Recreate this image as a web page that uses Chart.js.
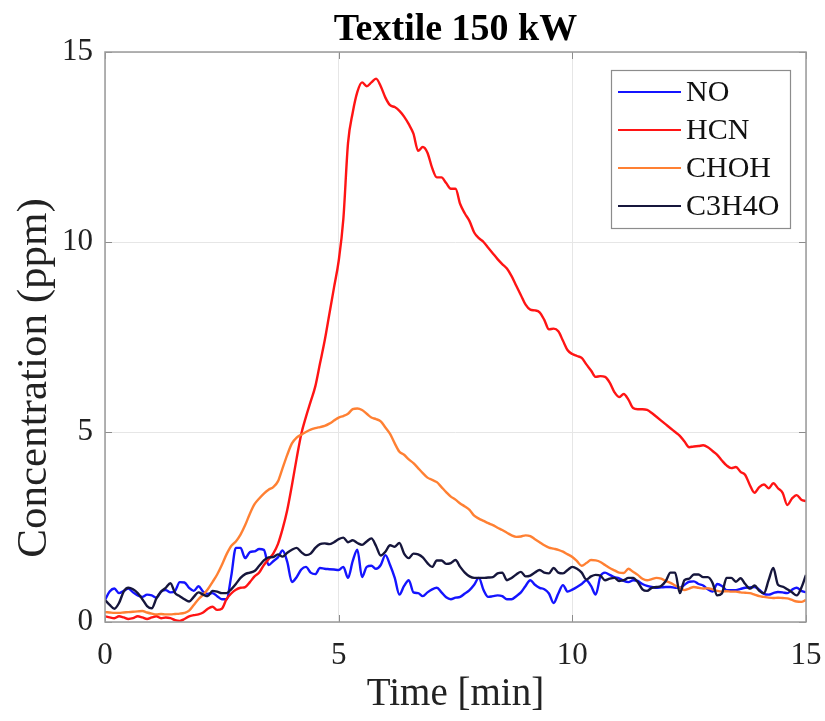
<!DOCTYPE html>
<html>
<head>
<meta charset="utf-8">
<script src="https://cdn.jsdelivr.net/npm/chart.js@4.4.1/dist/chart.umd.min.js"></script>
<style>
  html, body { margin: 0; padding: 0; background: #fff; }
  #wrap { width: 825px; height: 721px; position: relative; }
</style>
</head>
<body>
<div id="wrap"><canvas id="chart" width="825" height="721"></canvas></div>
<script>
// sampling every 0.1 min, 0 .. 15 min
const timeMin = Array.from({ length: 151 }, (_, i) => i / 10);

const seriesNames = ['NO', 'HCN', 'CHOH', 'C3H4O'];
const seriesColors = ['#1414ff', '#ff1414', '#ff8033', '#16163c'];

const xTicks = [0, 5, 10, 15];
const yTicks = [0, 5, 10, 15];

const no = [
  0.58,0.80,0.88,0.76,0.82,0.88,0.78,0.70,0.66,0.72,
  0.70,0.64,0.80,0.84,0.78,0.82,1.05,1.04,0.90,0.82,
  0.94,0.80,0.74,0.76,0.68,0.60,0.60,1.20,1.95,1.95,
  1.68,1.84,1.86,1.92,1.90,1.50,1.60,1.70,1.88,1.58,
  1.05,1.18,1.38,1.45,1.30,1.26,1.42,1.40,1.39,1.38,
  1.37,1.45,1.16,1.60,1.90,1.18,1.45,1.48,1.40,1.50,
  1.76,1.50,1.16,0.72,0.95,1.10,0.78,0.76,0.68,0.78,
  0.86,0.90,0.78,0.65,0.60,0.64,0.66,0.75,0.84,0.98,
  1.16,0.84,0.66,0.68,0.70,0.68,0.60,0.60,0.68,0.78,
  0.95,1.10,0.98,0.90,0.86,0.75,0.50,0.75,0.97,0.80,
  0.85,0.92,1.00,1.10,0.95,0.72,1.20,1.30,1.24,1.18,
  1.15,1.08,1.05,1.10,1.08,1.00,0.95,0.92,0.90,0.91,
  0.92,0.92,0.90,0.90,0.98,1.06,1.07,1.00,0.96,0.86,
  0.80,1.00,0.95,0.84,0.84,0.84,0.87,0.90,0.91,0.92,
  0.85,0.74,0.72,0.76,0.79,0.78,0.76,0.85,0.90,0.82,
  0.78
];

const hcn = [
  0.15,0.12,0.10,0.15,0.12,0.08,0.10,0.15,0.12,0.08,
  0.12,0.15,0.10,0.12,0.10,0.05,0.03,0.08,0.15,0.18,
  0.20,0.25,0.35,0.40,0.32,0.35,0.60,0.75,0.85,0.90,
  0.92,1.05,1.20,1.30,1.50,1.65,1.80,2.05,2.45,2.95,
  3.60,4.30,4.95,5.40,5.80,6.20,6.80,7.40,8.10,8.80,
  9.50,10.60,12.60,13.40,13.95,14.20,14.10,14.20,14.30,14.10,
  13.80,13.60,13.55,13.45,13.30,13.10,12.85,12.40,12.50,12.35,
  11.95,11.70,11.70,11.55,11.40,11.40,11.00,10.75,10.55,10.25,
  10.10,10.00,9.85,9.70,9.55,9.42,9.30,9.10,8.85,8.60,
  8.35,8.22,8.20,8.15,7.95,7.70,7.72,7.65,7.40,7.15,
  7.05,7.00,6.95,6.78,6.62,6.45,6.47,6.45,6.30,6.05,
  5.92,6.00,5.85,5.63,5.60,5.60,5.58,5.50,5.40,5.30,
  5.20,5.10,5.00,4.90,4.75,4.60,4.62,4.63,4.65,4.60,
  4.50,4.40,4.25,4.12,4.05,4.08,3.95,3.87,3.60,3.40,
  3.55,3.62,3.52,3.65,3.52,3.40,3.08,3.25,3.34,3.22,
  3.18
];

const choh = [
  0.26,0.25,0.24,0.24,0.25,0.26,0.27,0.28,0.29,0.25,
  0.22,0.20,0.21,0.20,0.20,0.21,0.22,0.24,0.30,0.45,
  0.60,0.72,0.86,1.05,1.25,1.50,1.78,2.00,2.12,2.30,
  2.55,2.85,3.10,3.25,3.38,3.48,3.55,3.70,4.05,4.40,
  4.70,4.85,4.93,5.00,5.06,5.10,5.13,5.16,5.22,5.30,
  5.38,5.42,5.48,5.60,5.62,5.58,5.48,5.38,5.34,5.28,
  5.12,4.95,4.70,4.48,4.40,4.28,4.18,4.05,3.92,3.80,
  3.74,3.68,3.55,3.42,3.30,3.22,3.12,3.04,2.95,2.80,
  2.72,2.66,2.60,2.55,2.48,2.42,2.35,2.28,2.24,2.25,
  2.28,2.26,2.18,2.10,2.02,1.96,1.93,1.90,1.85,1.78,
  1.71,1.60,1.48,1.55,1.63,1.62,1.58,1.50,1.42,1.36,
  1.30,1.29,1.40,1.32,1.24,1.14,1.10,1.13,1.16,1.14,
  1.08,1.03,0.96,0.90,0.84,0.88,0.92,0.90,0.88,0.89,
  0.86,0.82,0.80,0.81,0.80,0.80,0.78,0.77,0.76,0.72,
  0.68,0.66,0.64,0.63,0.64,0.63,0.62,0.58,0.54,0.53,
  0.58
];

const c3h4o = [
  0.58,0.45,0.35,0.50,0.80,0.90,0.86,0.76,0.60,0.42,
  0.36,0.62,0.80,0.90,1.02,0.76,0.68,0.60,0.54,0.66,
  0.78,0.72,0.68,0.82,0.80,0.76,0.76,0.86,1.00,1.16,
  1.26,1.30,1.34,1.48,1.62,1.70,1.71,1.78,1.72,1.82,
  1.90,1.95,1.84,1.76,1.80,1.95,2.05,2.07,2.05,2.10,
  2.18,2.22,2.10,2.15,2.08,2.03,2.12,2.20,2.00,1.75,
  1.85,2.02,1.98,2.08,1.80,1.68,1.80,1.78,1.70,1.55,
  1.45,1.62,1.62,1.53,1.55,1.63,1.45,1.30,1.20,1.16,
  1.16,1.16,1.17,1.18,1.28,1.30,1.10,1.16,1.25,1.32,
  1.20,1.22,1.30,1.37,1.30,1.28,1.42,1.30,1.28,1.37,
  1.45,1.40,1.30,1.12,1.20,1.24,1.22,1.10,1.14,1.16,
  1.08,1.10,1.16,1.16,1.05,0.86,0.82,0.90,0.92,0.95,
  1.08,1.30,1.30,0.76,1.10,1.14,1.25,1.25,1.18,1.18,
  1.03,0.70,0.75,1.16,1.16,1.06,1.15,1.00,0.88,0.96,
  0.82,0.76,1.10,1.42,0.98,0.93,0.86,0.78,0.70,0.90,
  1.24
];

const allSeries = [no, hcn, choh, c3h4o];
const serif = "'Liberation Serif', 'Times New Roman', serif";

// 枠線・内向き目盛り・タイトル・縦軸ラベル・凡例をまとめて描く
const matlabLook = {
  id: 'matlabLook',
  afterDraw(chart) {
    const { ctx, chartArea: a, scales } = chart;
    ctx.save();

    // 内向きの目盛り
    ctx.strokeStyle = '#8c8c8c';
    ctx.lineWidth = 1;
    ctx.beginPath();
    xTicks.forEach((v) => {
      const px = Math.round(scales.x.getPixelForValue(v)) + 0.5;
      ctx.moveTo(px, a.bottom); ctx.lineTo(px, a.bottom - 7);
      ctx.moveTo(px, a.top); ctx.lineTo(px, a.top + 7);
    });
    yTicks.forEach((v) => {
      const py = Math.round(scales.y.getPixelForValue(v)) + 0.5;
      ctx.moveTo(a.left, py); ctx.lineTo(a.left + 7, py);
      ctx.moveTo(a.right, py); ctx.lineTo(a.right - 7, py);
    });
    ctx.stroke();

    // 外枠
    ctx.strokeStyle = '#9a9a9a';
    ctx.lineWidth = 1.5;
    ctx.strokeRect(a.left, a.top, a.right - a.left, a.bottom - a.top);

    // タイトル
    ctx.fillStyle = '#000';
    ctx.font = 'bold 38px ' + serif;
    ctx.textAlign = 'center';
    ctx.textBaseline = 'middle';
    ctx.fillText('Textile 150 kW', (a.left + a.right) / 2, 30);

    // 縦軸ラベル（元図では少し下寄り）
    ctx.save();
    ctx.translate(35, 378);
    ctx.rotate(-Math.PI / 2);
    ctx.fillStyle = '#222';
    ctx.font = '43px ' + serif;
    ctx.fillText('Concentration (ppm)', 0, 0);
    ctx.restore();

    // 凡例
    const lx = 611, ly = 70, lw = 179, lh = 158;
    ctx.fillStyle = '#fff';
    ctx.fillRect(lx, ly, lw, lh);
    ctx.strokeStyle = '#8c8c8c';
    ctx.lineWidth = 1.2;
    ctx.strokeRect(lx + 0.5, ly + 0.5, lw, lh);
    ctx.font = '30px ' + serif;
    ctx.textAlign = 'left';
    seriesNames.forEach((name, i) => {
      const cy = 92 + i * 38;
      ctx.strokeStyle = seriesColors[i];
      ctx.lineWidth = 2;
      ctx.beginPath();
      ctx.moveTo(618, cy); ctx.lineTo(681, cy);
      ctx.stroke();
      ctx.fillStyle = '#111';
      ctx.fillText(name, 686, cy + 1);
    });
    ctx.restore();
  }
};

new Chart(document.getElementById('chart'), {
  type: 'line',
  data: {
    datasets: seriesNames.map((name, i) => ({
      label: name,
      data: timeMin.map((t, k) => ({ x: t, y: allSeries[i][k] })),
      borderColor: seriesColors[i],
      borderWidth: 2.4,
      pointRadius: 0,
      tension: 0.4,
      cubicInterpolationMode: 'monotone',
      fill: false,
      order: seriesNames.length - i
    }))
  },
  options: {
    responsive: false,
    animation: false,
    events: [],
    layout: { padding: { top: 52, right: 19, left: 0, bottom: 0 } },
    plugins: {
      legend: { display: false },
      tooltip: { enabled: false }
    },
    scales: {
      x: {
        type: 'linear',
        min: 0,
        max: 15,
        afterFit: (s) => { s.height = 99; s.paddingLeft = 0; s.paddingRight = 0; },
        afterBuildTicks: (s) => { s.ticks = xTicks.map((v) => ({ value: v })); },
        grid: { color: '#e6e6e6', drawTicks: false },
        border: { display: false },
        ticks: { padding: 15, color: '#222', font: { family: serif, size: 31 }, maxRotation: 0 },
        title: { display: true, text: 'Time [min]', color: '#222', font: { family: serif, size: 39 }, padding: { top: 0, bottom: 3 } }
      },
      y: {
        min: 0,
        max: 15,
        afterFit: (s) => { s.width = 105; s.paddingTop = 0; s.paddingBottom = 0; },
        afterBuildTicks: (s) => { s.ticks = yTicks.map((v) => ({ value: v })); },
        grid: { color: '#e6e6e6', drawTicks: false },
        border: { display: false },
        ticks: { padding: 12, color: '#222', font: { family: serif, size: 31 } },
        title: { display: false }
      }
    }
  },
  plugins: [matlabLook]
});
</script>
</body>
</html>
